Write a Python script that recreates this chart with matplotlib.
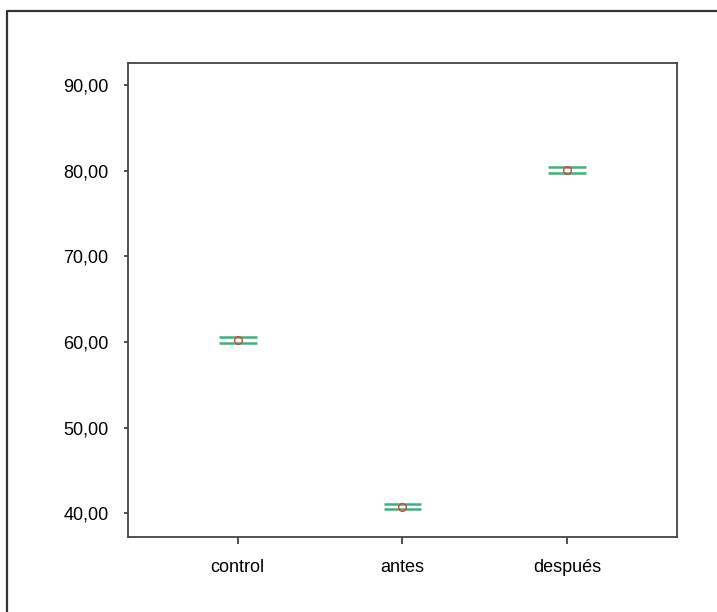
import numpy as np
import matplotlib
matplotlib.use('Agg')
import matplotlib.pyplot as plt
from matplotlib.lines import Line2D

plt.rcParams['font.family'] = ['Liberation Sans', 'DejaVu Sans']

groups = ['control', 'antes', 'después']
means = [60.23, 40.75, 80.07]
ci_half = [0.32, 0.31, 0.33]
yticks = [40, 50, 60, 70, 80, 90]

fig = plt.figure(figsize=(7.17, 6.12), dpi=100)
ax = fig.add_axes([0.1785, 0.1225, 0.7657, 0.7745])

x = np.arange(1, len(groups) + 1)
hw = 0.115
for xi, m, h in zip(x, means, ci_half):
    ax.hlines([m - h, m + h], xi - hw, xi + hw, color='#3cb37a', lw=1.8)
ax.plot(x, means, 'o', ms=5.5, mfc='none', mec='#e0403a', mew=1.0, ls='none')

ax.set_xlim(1 / 3, 3 + 2 / 3)
ax.set_ylim(37.2, 92.6)
ax.set_xticks(x)
ax.set_xticklabels(groups)
ax.set_yticks(yticks)
ax.set_yticklabels(['{:.2f}'.format(v).replace('.', ',') for v in yticks])
ax.tick_params(axis='y', length=3, width=1.2, pad=11, labelsize=13, color='#333333')
ax.tick_params(axis='x', length=5, width=1.2, pad=11, labelsize=13, color='#333333')
for s in ax.spines.values():
    s.set_color('#444444')
    s.set_linewidth(1.3)

# outer frame (top and left visible)
fx = 7 / 717
fy = 1 - 11 / 612
fig.add_artist(Line2D([fx, fx, 1.0], [0.0, fy, fy], transform=fig.transFigure,
                      color='#333333', lw=1.6))

fig.savefig('out.png', dpi=100)
